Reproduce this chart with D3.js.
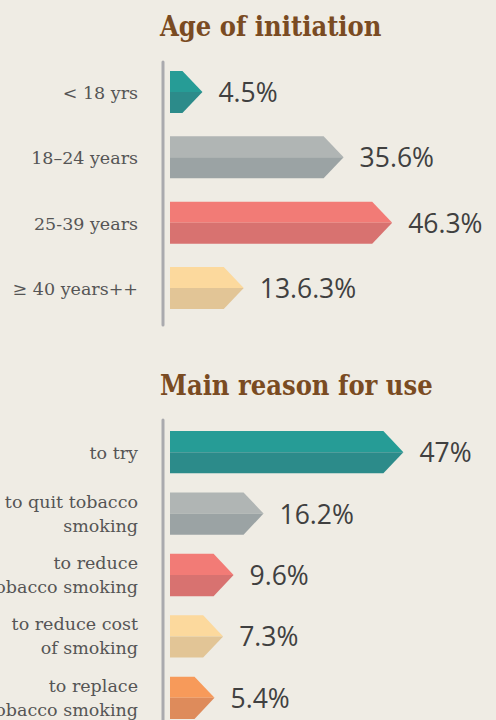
<!DOCTYPE html>
<html>
<head>
<meta charset="utf-8">
<script src="https://cdn.jsdelivr.net/npm/d3@7"></script>
<style>
  html, body { margin: 0; padding: 0; background: #efece4; overflow: hidden; }
  svg { display: block; }
</style>
</head>
<body>
<svg id="chart" width="496" height="720"></svg>
<script>
// --- data ---
const ageTitle = 'Age of initiation';
const ageLabels = [['< 18 yrs'], ['18–24 years'], ['25-39 years'], ['≥ 40 years++']];
const ageValues = [4.5, 35.6, 46.3, 13.6];
const ageValueText = ['4.5%', '35.6%', '46.3%', '13.6.3%'];

const reasonTitle = 'Main reason for use';
const reasonLabels = [
    ['to try'],
    ['to quit tobacco', 'smoking'],
    ['to reduce', 'tobacco smoking'],
    ['to reduce cost', 'of smoking'],
    ['to replace', 'tobacco smoking']
];
const reasonValues = [47, 16.2, 9.6, 7.3, 5.4];
const reasonValueText = ['47%', '16.2%', '9.6%', '7.3%', '5.4%'];

// top / bottom shade of each bar
const topColors = ['#269c96', '#b0b5b4', '#f27b76', '#fcd99d', '#f79a5a'];
const bottomColors = ['#2c8b8a', '#9ba3a4', '#d87270', '#e2c596', '#de8b5b'];

const svg = d3.select('#chart');
const x0 = 170;
const tip = 20;
const x = d3.scaleLinear().domain([0, 50]).range([0, 227]);

function drawPanel(opts) {
    const g = svg.append('g');

    g.append('text')
        .attr('x', 160)
        .attr('y', opts.titleY)
        .attr('font-family', '"DejaVu Serif Condensed", "DejaVu Serif", serif')
        .attr('font-weight', 'bold')
        .attr('font-size', '27px')
        .attr('fill', '#7a4b22')
        .text(opts.title);

    // vertical axis line
    g.append('line')
        .attr('x1', 163).attr('x2', 163)
        .attr('y1', opts.axisTop).attr('y2', opts.axisBottom)
        .attr('stroke', '#aaaaae')
        .attr('stroke-width', 3)
        .attr('stroke-linecap', 'round');

    const y = d3.scaleBand()
        .domain(d3.range(opts.values.length))
        .range(opts.range)
        .paddingInner(opts.padding)
        .paddingOuter(0);

    const bars = g.selectAll('g.bar')
        .data(opts.values)
        .join('g')
        .attr('class', 'bar');

    const len = v => Math.max(x(v) + opts.offset, tip + 8);

    // top half
    bars.append('path')
        .attr('fill', (d, i) => topColors[i])
        .attr('d', (d, i) => {
            const t = y(i), c = t + y.bandwidth() / 2, w = len(d);
            return `M${x0},${t}L${x0 + w - tip},${t}L${x0 + w},${c}L${x0},${c}Z`;
        });

    // bottom half
    bars.append('path')
        .attr('fill', (d, i) => bottomColors[i])
        .attr('d', (d, i) => {
            const b = y(i) + y.bandwidth(), c = y(i) + y.bandwidth() / 2, w = len(d);
            return `M${x0},${c}L${x0 + w},${c}L${x0 + w - tip},${b}L${x0},${b}Z`;
        });

    // value labels
    bars.append('text')
        .attr('x', d => x0 + len(d) + 16)
        .attr('y', (d, i) => y(i) + y.bandwidth() / 2 + 10)
        .attr('font-family', '"Open Sans", Lato, sans-serif')
        .attr('font-size', '26.5px')
        .attr('fill', '#404040')
        .text((d, i) => opts.valueText[i]);

    // category labels
    bars.append('text')
        .attr('text-anchor', 'end')
        .attr('font-family', '"DejaVu Serif", serif')
        .attr('font-size', '17.5px')
        .attr('fill', '#555555')
        .each(function(d, i) {
            const lines = opts.labels[i];
            const c = y(i) + y.bandwidth() / 2;
            const start = lines.length === 1 ? c + 7 : c - 6;
            d3.select(this).selectAll('tspan')
                .data(lines)
                .join('tspan')
                .attr('x', 138)
                .attr('y', (l, j) => start + j * 24)
                .text(l => l);
        });
}

drawPanel({
    title: ageTitle,
    titleY: 36,
    axisTop: 62,
    axisBottom: 325,
    labels: ageLabels,
    values: ageValues,
    valueText: ageValueText,
    range: [71, 309],
    padding: 0.357,
    offset: 12
});

drawPanel({
    title: reasonTitle,
    titleY: 395,
    axisTop: 420,
    axisBottom: 740,
    labels: reasonLabels,
    values: reasonValues,
    valueText: reasonValueText,
    range: [431, 719],
    padding: 0.31,
    offset: 20
});
</script>
</body>
</html>
